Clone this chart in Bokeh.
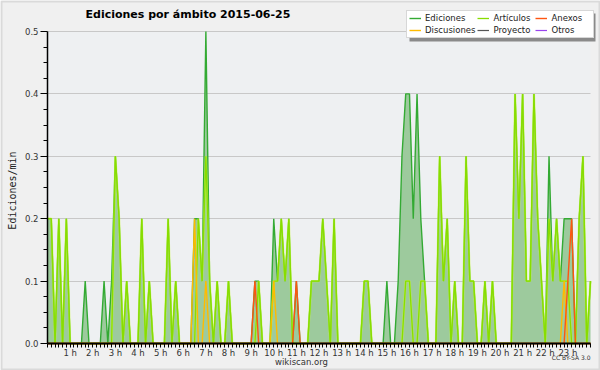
import math
from bokeh.plotting import figure
from bokeh.models import (FixedTicker, Legend, LegendItem, Range1d, PrintfTickFormatter,
                          Label, BoxAnnotation)
from bokeh.embed import file_html
from bokeh.resources import INLINE

# ---------------- data (10-minute slots, edits per minute) ----------------
slot_minutes = list(range(0, 1441, 10))
hour_ticks = [1, 2, 3, 4, 5, 6, 7, 8, 9, 10, 11, 12, 13, 14, 15, 16, 17, 18, 19, 20, 21, 22, 23]
y_ticks = [0.0, 0.1, 0.2, 0.3, 0.4, 0.5]
y_minor = [0.025, 0.05, 0.075, 0.125, 0.15, 0.175, 0.225, 0.25, 0.275, 0.325, 0.35, 0.375,
           0.425, 0.45, 0.475]

ediciones = [
    0.2, 0.2, 0, 0.2, 0, 0.2, 0, 0, 0, 0, 0.1, 0, 0, 0, 0, 0.1, 0, 0.1, 0.3, 0.2,
    0, 0.1, 0, 0, 0, 0.2, 0, 0.1, 0, 0, 0, 0, 0.2, 0, 0.1, 0, 0, 0, 0, 0.2,
    0.2, 0.1, 0.5, 0.1, 0, 0.1, 0, 0, 0.1, 0, 0, 0, 0, 0, 0, 0.1, 0.1, 0, 0, 0,
    0.2, 0.1, 0.2, 0.1, 0.2, 0, 0.1, 0, 0, 0, 0.1, 0.1, 0.1, 0.2, 0.1, 0, 0.2, 0, 0, 0,
    0, 0, 0, 0, 0.1, 0.1, 0, 0, 0, 0, 0.1, 0, 0, 0.1, 0.3, 0.4, 0.4, 0.2, 0.4, 0.2,
    0.1, 0, 0, 0, 0.3, 0.1, 0.2, 0, 0.1, 0, 0, 0.3, 0.1, 0.1, 0, 0, 0.1, 0, 0.1, 0,
    0, 0, 0, 0, 0.4, 0.2, 0.4, 0.1, 0.1, 0.4, 0.2, 0.1, 0, 0.3, 0.1, 0.2, 0.1, 0.2, 0.2, 0.2,
    0, 0.2, 0.3, 0, 0.1]
articulos = [
    0.2, 0.2, 0, 0.2, 0, 0.2, 0, 0, 0, 0, 0, 0, 0, 0, 0, 0, 0, 0, 0.3, 0.2,
    0, 0.1, 0, 0, 0, 0.2, 0, 0.1, 0, 0, 0, 0, 0.2, 0, 0.1, 0, 0, 0, 0, 0,
    0.2, 0.1, 0.3, 0.1, 0, 0.1, 0, 0, 0.1, 0, 0, 0, 0, 0, 0, 0, 0.1, 0, 0, 0,
    0.1, 0.1, 0.2, 0.1, 0.2, 0, 0, 0, 0, 0, 0.1, 0.1, 0.1, 0.2, 0.1, 0, 0.2, 0, 0, 0,
    0, 0, 0, 0, 0.1, 0.1, 0, 0, 0, 0, 0, 0, 0, 0, 0, 0.1, 0.1, 0, 0, 0.1,
    0.1, 0, 0, 0, 0.3, 0.1, 0.2, 0, 0.1, 0, 0, 0.3, 0.1, 0.1, 0, 0, 0.1, 0, 0.1, 0,
    0, 0, 0, 0, 0.4, 0.2, 0.4, 0.1, 0.1, 0.4, 0.2, 0.1, 0, 0.2, 0.1, 0.2, 0.1, 0.1, 0.1, 0,
    0, 0.2, 0.3, 0, 0.1]
anexos = [0] * 55 + [0.1] + [0] * 10 + [0.1] + [0] * 71 + [0.1, 0.2] + [0] * 5
discusiones = [0] * 39 + [0.2, 0, 0, 0.1] + [0] * 17 + [0.1] + [0] * 76 + [0.1] + [0] * 7
proyecto = [0] * 145
otros = [0] * 145

series_names = ["Ediciones", "Artículos", "Anexos", "Discusiones", "Proyecto", "Otros"]
hours = [m / 60 for m in slot_minutes]

# ---------------- layout (page pixels) ----------------
W, H = 600, 370
PX_L, PX_R, PX_T, PX_B = 47, 590, 31, 343   # plot area
X0, X1, Y0, Y1 = 0, 24, 0.0, 0.5
xpp = (X1 - X0) / (PX_R - PX_L)
ypp = (Y1 - Y0) / (PX_B - PX_T)

p = figure(width=W, height=H, output_backend="svg", toolbar_location=None, title=None,
           x_range=Range1d(X0 - PX_L * xpp, X1 + (W - PX_R) * xpp),
           y_range=Range1d(Y0 - (H - PX_B) * ypp, Y1 + PX_T * ypp),
           min_border=0, background_fill_color="#f0f0f0", border_fill_color="#f0f0f0")
p.outline_line_color = None


def sy(page_y):
    return H - page_y


# plot-area background
p.add_layout(BoxAnnotation(left=X0, right=X1, bottom=Y0, top=Y1, fill_color="#eef0f2",
                           fill_alpha=1, line_color=None, level="image"))

# zero series first (hidden under the rest)
r_otr = p.line(hours, otros, line_color="#9944ee", line_width=1.2)
r_pro = p.line(hours, proyecto, line_color="#555555", line_width=1.2)

p.varea(x=hours, y1=[0] * 145, y2=ediciones, fill_color="#9dca9d", fill_alpha=1.0)
r_ed = p.line(hours, ediciones, line_color="#33aa33", line_width=1.4)
p.line(hours, articulos, line_color="#ccff33", line_width=2.2, line_alpha=0.6)
r_art = p.line(hours, articulos, line_color="#88dd00", line_width=1.3)
r_dis = p.line(hours, discusiones, line_color="#ffbb00", line_width=1.4)
r_anx = p.line(hours, anexos, line_color="#ff5511", line_width=1.4)

# ---------------- axes ----------------
xa = p.xaxis[0]
xa.fixed_location = Y0
xa.bounds = (X0, X1)
xa.ticker = FixedTicker(ticks=hour_ticks, minor_ticks=hours)
xa.major_label_overrides = {h: f"{h} h" for h in hour_ticks}
xa.major_tick_out = 2
xa.major_tick_in = 0
xa.minor_tick_out = 4
xa.minor_tick_in = 0
xa.major_label_standoff = 0
xa.major_label_text_font = "DejaVu Sans"
xa.major_label_text_font_size = "8.5px"
xa.major_label_text_color = "#333333"
xa.axis_line_color = "black"
xa.axis_line_width = 2

ya = p.yaxis[0]
ya.fixed_location = X0
ya.bounds = (Y0, Y1)
ya.ticker = FixedTicker(ticks=y_ticks, minor_ticks=y_minor)
ya.formatter = PrintfTickFormatter(format="%.1f")
ya.major_tick_out = 7
ya.major_tick_in = 0
ya.minor_tick_out = 4
ya.minor_tick_in = 0
ya.major_label_standoff = 2
ya.major_label_text_font = "DejaVu Sans"
ya.major_label_text_font_size = "8.5px"
ya.major_label_text_color = "#333333"
ya.axis_line_color = "black"
ya.axis_line_width = 1.5

p.xgrid.visible = False
yg = p.ygrid[0]
yg.ticker = FixedTicker(ticks=y_ticks)
yg.grid_line_color = "#c8c8c8"
if "cross_bounds" in yg.properties():
    yg.cross_bounds = (X0, X1)

# ---------------- texts ----------------
p.add_layout(Label(x=85, y=sy(14), x_units="screen", y_units="screen",
                   text="Ediciones por ámbito  2015-06-25", text_font="DejaVu Sans",
                   text_font_style="bold", text_font_size="11px", text_color="black",
                   text_baseline="middle", text_align="left"))
p.add_layout(Label(x=12, y=sy(190), x_units="screen", y_units="screen",
                   text="Ediciones/min", text_font="DejaVu Sans Mono", text_font_size="10px",
                   text_color="#222222", angle=math.pi / 2, text_align="center",
                   text_baseline="middle"))
p.add_layout(Label(x=301, y=sy(361), x_units="screen", y_units="screen",
                   text="wikiscan.org", text_font="DejaVu Sans", text_font_size="8.5px",
                   text_color="#333333", text_align="center", text_baseline="middle"))
p.add_layout(Label(x=590, y=sy(357), x_units="screen", y_units="screen",
                   text="CC BY-SA 3.0", text_font="DejaVu Sans", text_font_size="6px",
                   text_color="#333333", text_align="right", text_baseline="middle"))

# ---------------- legend ----------------
leg_x, leg_bottom = 406, 38
leg_w, leg_h = 186, 28
p.add_layout(BoxAnnotation(left=leg_x + 3, right=leg_x + 3 + leg_w, top=sy(leg_bottom + 3 - leg_h),
                           bottom=sy(leg_bottom + 3), left_units="screen", right_units="screen",
                           top_units="screen", bottom_units="screen", fill_color="#8a8a8a",
                           fill_alpha=1, line_color=None))
legend = Legend(items=[
    LegendItem(label=series_names[0], renderers=[r_ed]),
    LegendItem(label=series_names[1], renderers=[r_art]),
    LegendItem(label=series_names[2], renderers=[r_anx]),
    LegendItem(label=series_names[3], renderers=[r_dis]),
    LegendItem(label=series_names[4], renderers=[r_pro]),
    LegendItem(label=series_names[5], renderers=[r_otr]),
], location=(leg_x, sy(leg_bottom)), orientation="horizontal", ncols=3,
    label_text_font="DejaVu Sans", label_text_font_size="8.5px", label_text_color="#222222",
    label_height=10, glyph_height=10, glyph_width=12, label_standoff=4, label_width=40,
    spacing=2, padding=2, margin=0, border_line_color="#b0b0b0",
    background_fill_color="white", background_fill_alpha=1.0)
p.add_layout(legend, "center")

# outer frame of the picture
p.add_layout(BoxAnnotation(left=1, right=W - 1, bottom=1, top=H - 1, left_units="screen",
                           right_units="screen", top_units="screen", bottom_units="screen",
                           fill_alpha=0, line_color="#a8a8a8", line_width=2, level="overlay"))

open("out.html", "w").write(file_html(p, INLINE))
